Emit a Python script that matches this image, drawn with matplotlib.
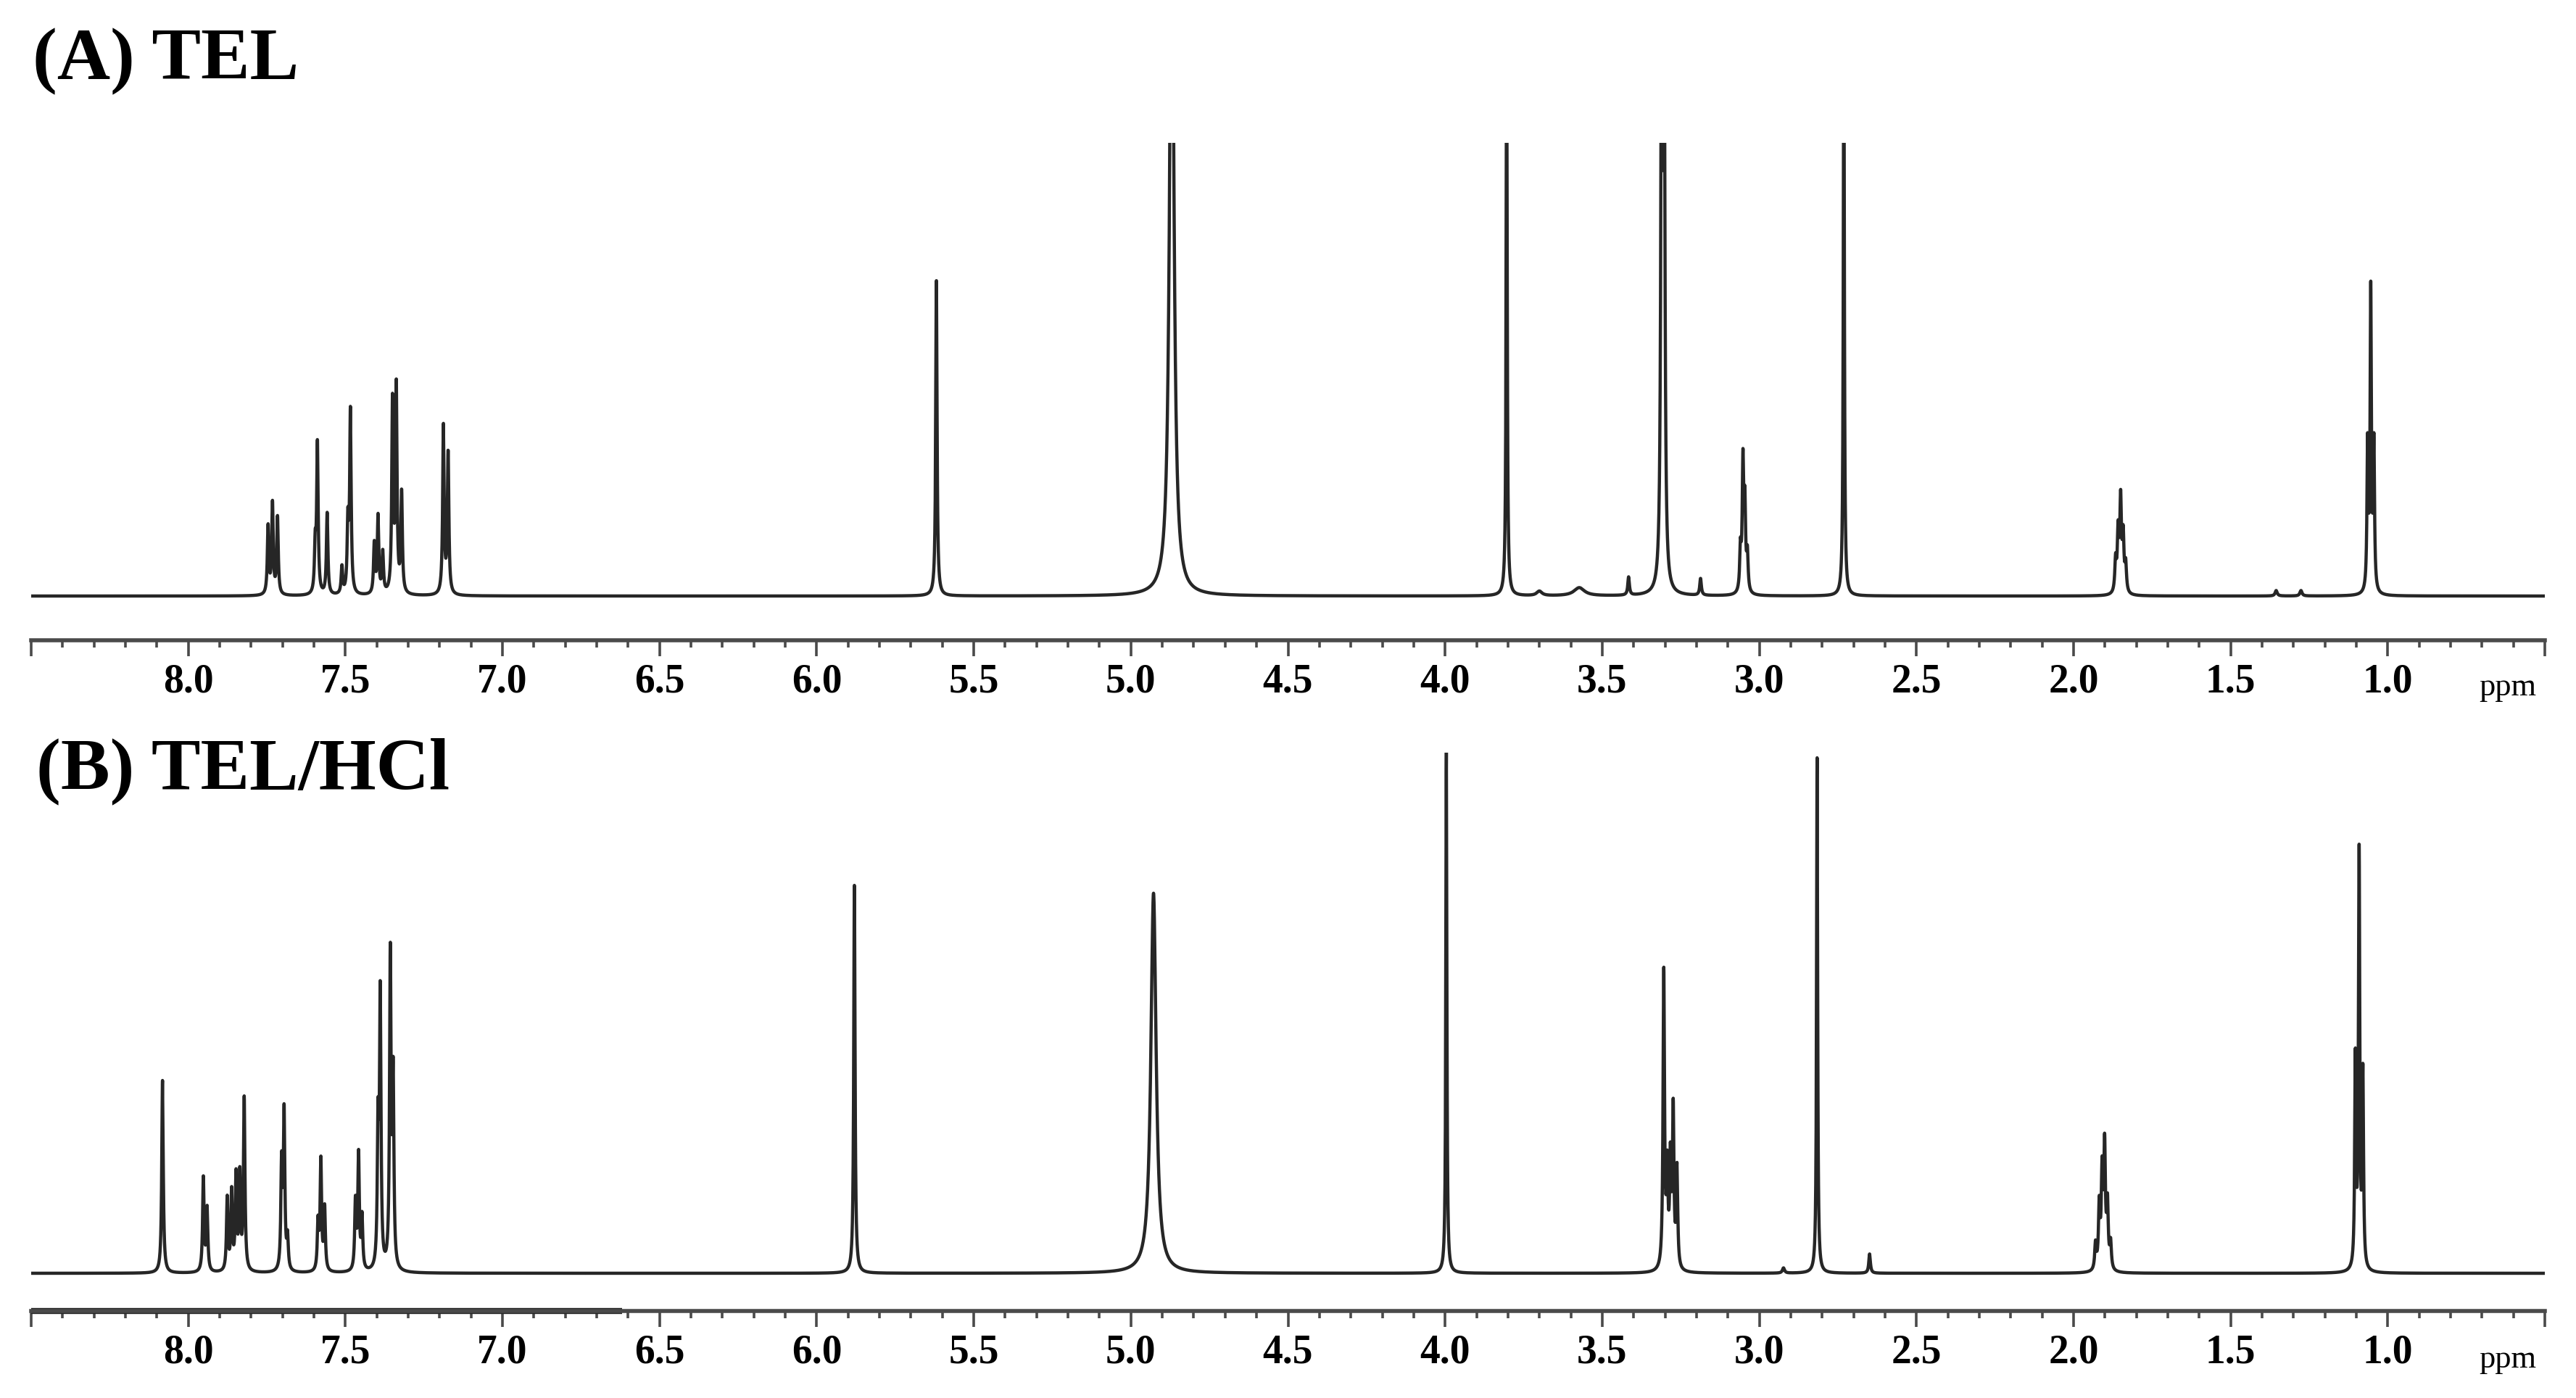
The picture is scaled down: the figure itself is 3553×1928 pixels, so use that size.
import numpy as np
import matplotlib.pyplot as plt
from matplotlib.ticker import FixedLocator, MultipleLocator

plt.rcParams["font.family"] = ["Liberation Serif", "DejaVu Serif"]

# (A) TEL - peak list: shift (ppm), height (clip level = 1), half width (ppm)
tel_shift = [7.746, 7.732, 7.716, 7.596, 7.589, 7.558, 7.511, 7.492, 7.484,
             7.408, 7.396, 7.381, 7.350, 7.338, 7.321, 7.188, 7.173,
             5.619, 4.870, 3.804, 3.700, 3.573, 3.416, 3.311, 3.303, 3.187,
             3.060, 3.052, 3.046, 3.038, 2.731,
             1.866, 1.858, 1.850, 1.842, 1.834, 1.355, 1.276,
             1.064, 1.054, 1.044]
tel_height = [0.15, 0.20, 0.17, 0.10, 0.33, 0.18, 0.06, 0.15, 0.40,
              0.11, 0.17, 0.09, 0.42, 0.45, 0.22, 0.37, 0.31,
              0.70, 1.60, 1.30, 0.010, 0.018, 0.040, 1.30, 1.30, 0.037,
              0.09, 0.28, 0.18, 0.08, 1.30,
              0.07, 0.13, 0.20, 0.12, 0.06, 0.012, 0.012,
              0.32, 0.66, 0.32]
tel_hwhm = [0.0028] * 17 + [0.0025, 0.008, 0.002, 0.010, 0.020, 0.003, 0.003, 0.003, 0.003,
                            0.0028, 0.0028, 0.0028, 0.0028, 0.002,
                            0.003, 0.003, 0.003, 0.003, 0.003, 0.004, 0.004,
                            0.0024, 0.0024, 0.0024]

# (B) TEL/HCl
hcl_shift = [8.082, 7.952, 7.940, 7.876, 7.862, 7.848, 7.836, 7.822,
             7.703, 7.695, 7.684, 7.587, 7.578, 7.566, 7.468, 7.458, 7.447,
             7.396, 7.389, 7.357, 7.348,
             5.880, 4.928, 3.996, 3.304, 3.293, 3.283, 3.274, 3.262,
             2.923, 2.816, 2.649,
             1.930, 1.918, 1.909, 1.901, 1.892, 1.882,
             1.103, 1.091, 1.079]
hcl_height = [0.37, 0.18, 0.12, 0.14, 0.15, 0.18, 0.18, 0.33,
              0.20, 0.30, 0.06, 0.09, 0.21, 0.12, 0.13, 0.22, 0.10,
              0.26, 0.52, 0.60, 0.36,
              0.745, 0.73, 1.0, 0.57, 0.18, 0.20, 0.30, 0.19,
              0.010, 0.99, 0.037,
              0.05, 0.12, 0.18, 0.23, 0.12, 0.05,
              0.40, 0.80, 0.37]
hcl_hwhm = [0.0028] * 21 + [0.0025, 0.010, 0.002, 0.0028, 0.0028, 0.0028, 0.0028, 0.0028,
                            0.004, 0.002, 0.003,
                            0.003, 0.003, 0.003, 0.003, 0.003, 0.003,
                            0.0024, 0.0024, 0.0024]

tick_values = [8.5, 8.0, 7.5, 7.0, 6.5, 6.0, 5.5, 5.0, 4.5, 4.0, 3.5, 3.0, 2.5, 2.0, 1.5, 1.0, 0.5]
tick_labels = ["", "8.0", "7.5", "7.0", "6.5", "6.0", "5.5", "5.0", "4.5", "4.0",
               "3.5", "3.0", "2.5", "2.0", "1.5", "1.0", ""]

W, H = 3553, 1928
LINE_COLOR = "#262626"
AXIS_COLOR = "#4a4a4a"


def spectrum(x, shifts, heights, widths):
    """Sum of Lorentzian lines for a peak list."""
    y = np.zeros_like(x)
    for p, h, w in zip(shifts, heights, widths):
        y += h / (1.0 + ((x - p) / w) ** 2)
    return y


def style_axis(ax, ybottom):
    ax.set_xlim(8.5, 0.5)
    ax.set_ylim(ybottom, 1.0)
    for side in ["top", "left", "right"]:
        ax.spines[side].set_visible(False)
    ax.spines["bottom"].set_linewidth(4.0)
    ax.spines["bottom"].set_color(AXIS_COLOR)
    ax.set_yticks([])
    ax.xaxis.set_major_locator(FixedLocator(tick_values))
    ax.xaxis.set_minor_locator(MultipleLocator(0.1))
    ax.set_xticklabels(tick_labels, fontweight="bold", fontsize=40)
    ax.tick_params(which="major", direction="out", length=16, width=2.6,
                   color=AXIS_COLOR, pad=7)
    ax.tick_params(which="minor", direction="out", length=7, width=2.6,
                   color=AXIS_COLOR)
    ax.patch.set_alpha(0)


def px_axes(left, top, right, bottom):
    return [left / W, 1 - bottom / H, (right - left) / W, (bottom - top) / H]


fig = plt.figure(figsize=(W / 100, H / 100), dpi=100)
x = np.arange(0.45, 8.55, 0.0004)

# panel A
ax1 = fig.add_axes(px_axes(43, 197, 3510, 883))
ax1.plot(x, spectrum(x, tel_shift, tel_height, tel_hwhm), color=LINE_COLOR, lw=3.2)
style_axis(ax1, -0.0976)

# panel B
ax2 = fig.add_axes(px_axes(43, 1038, 3510, 1808))
ax2.plot(x, spectrum(x, hcl_shift, hcl_height, hcl_hwhm), color=LINE_COLOR, lw=3.2)
style_axis(ax2, -0.0724)
# darker band on the left part of the lower ruler
ax2.plot([8.5, 6.62], [-0.0724, -0.0724], color="#262626", lw=6, clip_on=False,
         solid_capstyle="butt")

fig.text(45 / W, 1 - 109 / H, "(A) TEL", fontsize=73, fontweight="bold", va="baseline")
fig.text(50 / W, 1 - 1088 / H, "(B) TEL/HCl", fontsize=73, fontweight="bold", va="baseline")
fig.text(3459 / W, 1 - 959 / H, "ppm", fontsize=32, ha="center", va="baseline")
fig.text(3459 / W, 1 - 1886 / H, "ppm", fontsize=32, ha="center", va="baseline")

fig.savefig("out.png", dpi=100, facecolor="white")
